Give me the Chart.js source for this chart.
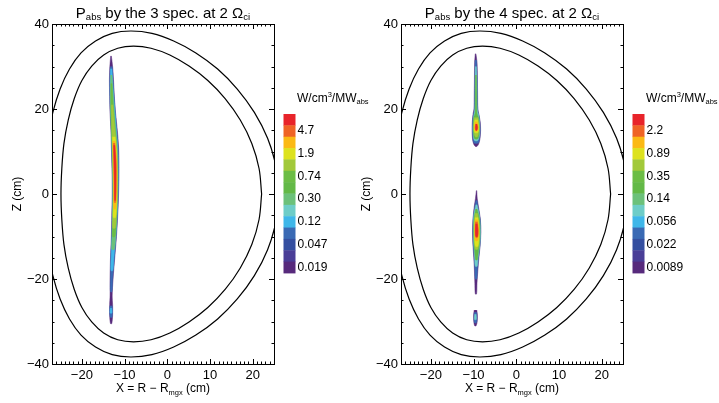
<!DOCTYPE html>
<html>
<head>
<meta charset="utf-8">
<script src="https://cdn.jsdelivr.net/npm/chart.js@4.4.1/dist/chart.umd.min.js"></script>
<style>
  html, body { margin: 0; padding: 0; background: #fff; }
  #wrap { position: relative; width: 719px; height: 403px; overflow: hidden; }
  canvas { position: absolute; top: 0; }
</style>
</head>
<body>
<div id="wrap">
  <canvas id="spec3" width="380" height="403" style="left:0"></canvas>
  <canvas id="spec4" width="359" height="403" style="left:360px"></canvas>
</div>
<script>
// contour colours, lowest level first
const levelColors = ['#572a7c', '#4a3e97', '#344fa0', '#3a6ab4', '#3fb7e9', '#6ecdc8', '#6cc17a',
                     '#63b947', '#6cbd45', '#a2c93a', '#dde21e', '#fbb914', '#ef6425', '#e8242a'];

// colour bar labels, top to bottom
const barLabels3 = ['4.7', '1.9', '0.74', '0.30', '0.12', '0.047', '0.019'];
const barLabels4 = ['2.2', '0.89', '0.35', '0.14', '0.056', '0.022', '0.0089'];

const zTicks = [-40, -20, 0, 20, 40];
const xTicks = [-20, -10, 0, 10, 20];

// last closed flux surface and wall, [X, Z] in cm
const innerWall = [
  [22.1, 0], [21.5, 6.0], [19.8, 11.9], [17.1, 17.4], [13.6, 22.4], [9.5, 26.7], [5.1, 30.1], [0.6, 32.7],
  [-3.8, 34.3], [-7.9, 34.8], [-11.6, 34.3], [-14.9, 32.7], [-17.7, 30.1], [-20.0, 26.7], [-21.8, 22.4],
  [-23.2, 17.4], [-24.2, 11.9], [-24.7, 6.0], [-24.9, 0], [-24.7, -6.0], [-24.2, -11.9], [-23.2, -17.4],
  [-21.8, -22.4], [-20.0, -26.7], [-17.7, -30.1], [-14.9, -32.7], [-11.6, -34.3], [-7.9, -34.8],
  [-3.8, -34.3], [0.6, -32.7], [5.1, -30.1], [9.5, -26.7], [13.6, -22.4], [17.1, -17.4], [19.8, -11.9],
  [21.5, -6.0], [22.1, 0]
];
const outerWall = [
  [26.1, 0], [25.4, 6.7], [23.5, 13.1], [20.4, 19.2], [16.4, 24.7], [11.8, 29.4], [6.7, 33.2], [1.5, 36.0],
  [-3.6, 37.8], [-8.5, 38.35], [-12.9, 37.8], [-16.8, 36.0], [-20.2, 33.2], [-22.9, 29.4], [-25.1, 24.7],
  [-26.8, 19.2], [-28.0, 13.1], [-28.7, 6.7], [-28.9, 0], [-28.7, -6.7], [-28.0, -13.1], [-26.8, -19.2],
  [-25.1, -24.7], [-22.9, -29.4], [-20.2, -33.2], [-16.8, -36.0], [-12.9, -37.8], [-8.5, -38.35],
  [-3.6, -37.8], [1.5, -36.0], [6.7, -33.2], [11.8, -29.4], [16.4, -24.7], [20.4, -19.2], [23.5, -13.1],
  [25.4, -6.7], [26.1, 0]
];

// absorbed power contours: [level, rows of [Z, X left, X right]]
const spec3Contours = [
  [0, [[32.5, -13.25, -13.1], [30, -13.45, -12.8], [27, -13.55, -12.6], [23, -13.5, -12.4], [19, -13.4, -12.1],
       [15, -13.2, -11.7], [11, -13.1, -11.4], [6, -12.95, -11.3], [0, -12.9, -11.4], [-5, -13.0, -11.6],
       [-10, -13.1, -11.9], [-15, -13.3, -12.3], [-20, -13.4, -12.7], [-24, -13.4, -12.9], [-26, -13.5, -12.8],
       [-28.5, -13.5, -12.8], [-30.5, -13.3, -13.0]]],
  [3, [[30, -13.35, -12.9], [26, -13.45, -12.65], [20, -13.35, -12.25], [15, -13.1, -11.85], [10, -13.0, -11.5],
       [5, -12.85, -11.45], [0, -12.8, -11.5], [-5, -12.9, -11.7], [-10, -13.0, -12.0], [-15, -13.2, -12.4],
       [-20, -13.3, -12.8], [-23, -13.3, -12.95]]],
  [3, [[-26.3, -13.45, -12.9], [-27.5, -13.5, -12.85], [-29, -13.35, -12.95]]],
  [4, [[29.5, -13.3, -12.95], [25, -13.4, -12.7], [20, -13.3, -12.3], [15, -13.05, -11.9], [10, -12.95, -11.55],
       [5, -12.8, -11.5], [0, -12.75, -11.55], [-5, -12.85, -11.75], [-10, -12.95, -12.05], [-15, -13.15, -12.5],
       [-18, -13.2, -12.75]]],
  [4, [[-26.8, -13.35, -13.0], [-28, -13.4, -12.95]]],
  [6, [[28, -13.25, -12.95], [23, -13.3, -12.65], [18, -13.2, -12.3], [13, -13.0, -11.85], [8, -12.85, -11.6],
       [2, -12.7, -11.6], [-4, -12.75, -11.8], [-9, -12.85, -12.05], [-13, -13.0, -12.4]]],
  [8, [[26, -13.2, -12.95], [20, -13.2, -12.6], [15, -13.05, -12.2], [10, -12.85, -11.8], [4, -12.7, -11.65],
       [-2, -12.7, -11.75], [-7, -12.75, -12.0], [-10, -12.85, -12.25]]],
  [9, [[21, -13.1, -12.75], [16, -13.0, -12.35], [12, -12.85, -11.95], [6, -12.7, -11.7], [0, -12.65, -11.75],
       [-5, -12.7, -11.95], [-8, -12.75, -12.2]]],
  [10, [[13.5, -12.85, -12.2], [10, -12.75, -11.9], [5, -12.65, -11.75], [0, -12.6, -11.8], [-3, -12.6, -11.9],
        [-5.5, -12.65, -12.1]]],
  [11, [[12.5, -12.75, -12.25], [9, -12.65, -11.95], [4, -12.55, -11.85], [0, -12.5, -11.9], [-3.5, -12.5, -12.1]]],
  [12, [[12, -12.65, -12.3], [8, -12.55, -12.0], [3, -12.45, -11.95], [-2, -12.4, -12.1]]],
  [13, [[11.5, -12.55, -12.3], [7, -12.45, -12.05], [2, -12.35, -12.05], [-1.5, -12.3, -12.15]]]
];

const spec4Contours = [
  // upper resonance spot
  [0, [[33, -9.6, -9.45], [31, -9.75, -9.2], [27, -9.8, -9.1], [23, -9.85, -9.05], [20, -9.9, -9.0],
       [19, -10.1, -8.8], [17, -10.3, -8.45], [15, -10.35, -8.35], [13, -10.25, -8.5], [11.8, -10.0, -8.8],
       [11.2, -9.6, -9.2]]],
  [3, [[31.5, -9.65, -9.3], [27, -9.7, -9.15], [22, -9.75, -9.1], [19.5, -9.85, -9.0], [18, -10.15, -8.65],
       [15, -10.25, -8.45], [13, -10.15, -8.6], [12, -9.9, -8.9]]],
  [5, [[30, -9.6, -9.35], [25, -9.65, -9.2], [20, -9.7, -9.15], [18.5, -9.95, -8.8], [16, -10.15, -8.55],
       [14, -10.1, -8.6], [12.6, -9.8, -9.0]]],
  [7, [[28, -9.55, -9.35], [23, -9.6, -9.25], [19, -9.65, -9.2], [18, -9.95, -8.85], [16, -10.05, -8.65],
       [14, -10.0, -8.7], [13, -9.75, -9.0]]],
  [9, [[18, -9.8, -9.0], [16, -9.95, -8.75], [14.3, -9.85, -8.85], [13.5, -9.6, -9.1]]],
  [10, [[17.5, -9.7, -9.1], [16, -9.85, -8.85], [14.5, -9.75, -8.95]]],
  [11, [[17, -9.6, -9.15], [15.8, -9.75, -8.95], [14.8, -9.6, -9.1]]],
  [13, [[16.5, -9.5, -9.2], [15.7, -9.6, -9.05], [15, -9.5, -9.2]]],
  // lower resonance spot
  [0, [[0.8, -9.35, -9.25], [-1, -9.55, -9.15], [-3, -9.85, -8.85], [-6, -10.15, -8.4], [-9, -10.25, -8.3],
       [-12, -10.15, -8.45], [-15, -9.95, -8.75], [-18, -9.8, -9.0], [-21, -9.7, -9.2], [-23.5, -9.6, -9.3]]],
  [0, [[-27.3, -9.85, -9.25], [-28.5, -10.0, -9.1], [-30, -9.95, -9.15], [-31, -9.75, -9.4]]],
  [3, [[-1.5, -9.45, -9.2], [-3.5, -9.8, -8.9], [-6, -10.1, -8.45], [-9, -10.15, -8.35], [-12, -10.05, -8.5],
       [-15, -9.85, -8.85], [-18, -9.7, -9.1], [-20, -9.6, -9.25]]],
  [3, [[-27.8, -9.8, -9.3], [-29, -9.9, -9.2], [-30.3, -9.8, -9.35]]],
  [5, [[-2.5, -9.45, -9.2], [-5, -9.95, -8.65], [-9, -10.05, -8.4], [-12, -9.95, -8.55], [-15, -9.75, -8.95],
       [-17, -9.6, -9.15]]],
  [5, [[-28.3, -9.75, -9.4], [-29.5, -9.8, -9.35]]],
  [7, [[-3.5, -9.5, -9.2], [-6, -9.9, -8.6], [-9, -9.95, -8.5], [-12, -9.85, -8.65], [-14.5, -9.65, -9.0],
       [-15.5, -9.5, -9.15]]],
  [9, [[-4.5, -9.6, -9.1], [-6.5, -9.8, -8.75], [-9.5, -9.85, -8.6], [-12, -9.75, -8.8], [-13, -9.55, -9.05]]],
  [10, [[-5.5, -9.6, -9.0], [-7.5, -9.75, -8.75], [-10.5, -9.75, -8.75], [-12.3, -9.55, -9.0]]],
  [11, [[-6, -9.6, -9.05], [-8, -9.7, -8.85], [-10.5, -9.65, -8.9], [-11, -9.5, -9.1]]],
  [12, [[-6.5, -9.55, -9.1], [-8.5, -9.65, -8.9], [-10.2, -9.5, -9.05]]],
  [13, [[-7, -9.5, -9.15], [-8.5, -9.55, -9.0], [-10, -9.45, -9.1]]]
];

const FONT = '"Liberation Sans", Arial, Helvetica, sans-serif';

function minus(v) {
  return v < 0 ? '\u2212' + Math.abs(v) : String(v);
}

// text made of runs [text, size, baseline shift] for sub/superscripts
function drawRuns(ctx, runs, x, y, align) {
  let w = 0;
  runs.forEach(r => { ctx.font = r[1] + 'px ' + FONT; w += ctx.measureText(r[0]).width; });
  let cx = align === 'center' ? x - w / 2 : x;
  runs.forEach(r => {
    ctx.font = r[1] + 'px ' + FONT;
    ctx.fillText(r[0], cx, y + r[2]);
    cx += ctx.measureText(r[0]).width;
  });
}

function wallSet(points) {
  return {
    data: points.map(p => ({x: p[0], y: p[1]})),
    showLine: true, fill: false, tension: 0.35,
    borderColor: '#000', borderWidth: 1.2, pointRadius: 0, order: 0
  };
}

function contourSets(pieces) {
  return pieces.map(([level, rows]) => {
    const left = rows.map(r => ({x: r[1], y: r[0]}));
    const right = rows.slice().reverse().map(r => ({x: r[2], y: r[0]}));
    return {
      data: left.concat(right),
      showLine: true, fill: 'shape', tension: 0.3,
      backgroundColor: levelColors[level], borderColor: levelColors[level], borderWidth: 0.5,
      pointRadius: 0, order: 100 - level
    };
  });
}

// frame, inward ticks, titles and colour bar
const panelDeco = {
  id: 'panelDeco',
  afterDraw(chart, args, opts) {
    const ctx = chart.ctx;
    const {left, right, top, bottom} = chart.chartArea;
    const xs = chart.scales.x, ys = chart.scales.y;
    ctx.save();
    ctx.strokeStyle = '#000';
    ctx.fillStyle = '#000';
    ctx.lineWidth = 1;
    ctx.beginPath();
    for (let v = Math.ceil(xs.min); v <= xs.max; v++) {
      const px = Math.round(xs.getPixelForValue(v)) + 0.5;
      const len = v % 10 === 0 ? 5 : 2.5;
      ctx.moveTo(px, bottom); ctx.lineTo(px, bottom - len);
      ctx.moveTo(px, top); ctx.lineTo(px, top + len);
    }
    for (let v = -40; v <= 40; v += 5) {
      const py = Math.round(ys.getPixelForValue(v)) + 0.5;
      const len = v % 20 === 0 ? 5 : 2.5;
      ctx.moveTo(left, py); ctx.lineTo(left + len, py);
      ctx.moveTo(right, py); ctx.lineTo(right - len, py);
    }
    ctx.stroke();
    ctx.strokeRect(Math.round(left) + 0.5, Math.round(top) + 0.5,
                   Math.round(right - left), Math.round(bottom - top));

    ctx.textBaseline = 'alphabetic';
    drawRuns(ctx, opts.title, (left + right) / 2, 17.5, 'center');
    drawRuns(ctx, [['X = R \u2212 R', 12, 0], ['mgx', 7.5, 2.5], [' (cm)', 12, 0]],
             (left + right) / 2, 392, 'center');

    ctx.save();
    ctx.translate(left - 35, (top + bottom) / 2);
    ctx.rotate(-Math.PI / 2);
    ctx.textAlign = 'center';
    ctx.font = '12px ' + FONT;
    ctx.fillText('Z (cm)', 0, 4);
    ctx.restore();

    // colour bar
    const bx = right + 9.5, by = 114, bw = 12, bh = 159 / levelColors.length;
    levelColors.slice().reverse().forEach((c, i) => {
      ctx.fillStyle = c;
      ctx.fillRect(bx, by + i * bh, bw, bh + 0.4);
    });
    ctx.fillStyle = '#000';
    ctx.textBaseline = 'middle';
    ctx.font = '12px ' + FONT;
    opts.labels.forEach((t, k) => {
      ctx.fillText(t, bx + bw + 2, by + (2 * k + 1.5) * bh);
    });
    ctx.textBaseline = 'alphabetic';
    drawRuns(ctx, [['W/cm', 12, 0], ['3', 7.5, -4.5], ['/MW', 12, 0], ['abs', 7.5, 2.5]],
             right + 23, 101.5, 'left');
    ctx.restore();
  }
};

function makePanel(id, plotLeft, plotRight, contours, title, labels) {
  const canvas = document.getElementById(id);
  return new Chart(canvas, {
    type: 'scatter',
    data: {
      datasets: [wallSet(outerWall), wallSet(innerWall)].concat(contourSets(contours))
    },
    options: {
      responsive: false,
      animation: false,
      events: [],
      devicePixelRatio: 1,
      layout: {padding: {left: 0, right: canvas.width - plotRight, top: 24, bottom: 0}},
      elements: {line: {capBezierPoints: false}},
      plugins: {
        legend: {display: false},
        tooltip: {enabled: false},
        panelDeco: {title: title, labels: labels}
      },
      scales: {
        x: {
          type: 'linear', min: -27, max: 25,
          grid: {display: false, drawTicks: false}, border: {display: false},
          afterBuildTicks: s => { s.ticks = xTicks.map(v => ({value: v})); },
          afterFit: s => { s.height = 39; },
          ticks: {color: '#000', padding: 4, font: {family: FONT, size: 13}, callback: minus}
        },
        y: {
          type: 'linear', min: -40, max: 40,
          grid: {display: false, drawTicks: false}, border: {display: false},
          afterBuildTicks: s => { s.ticks = zTicks.map(v => ({value: v})); },
          afterFit: s => { s.width = plotLeft; },
          ticks: {color: '#000', padding: 3, font: {family: FONT, size: 13}, callback: minus}
        }
      }
    },
    plugins: [panelDeco]
  });
}

makePanel('spec3', 52, 274, spec3Contours,
  [['P', 15, 0], ['abs', 9.5, 2.5], [' by the 3 spec. at 2 \u03a9', 15, 0], ['ci', 9.5, 2.5]], barLabels3);
makePanel('spec4', 41, 263, spec4Contours,
  [['P', 15, 0], ['abs', 9.5, 2.5], [' by the 4 spec. at 2 \u03a9', 15, 0], ['ci', 9.5, 2.5]], barLabels4);
</script>
</body>
</html>
